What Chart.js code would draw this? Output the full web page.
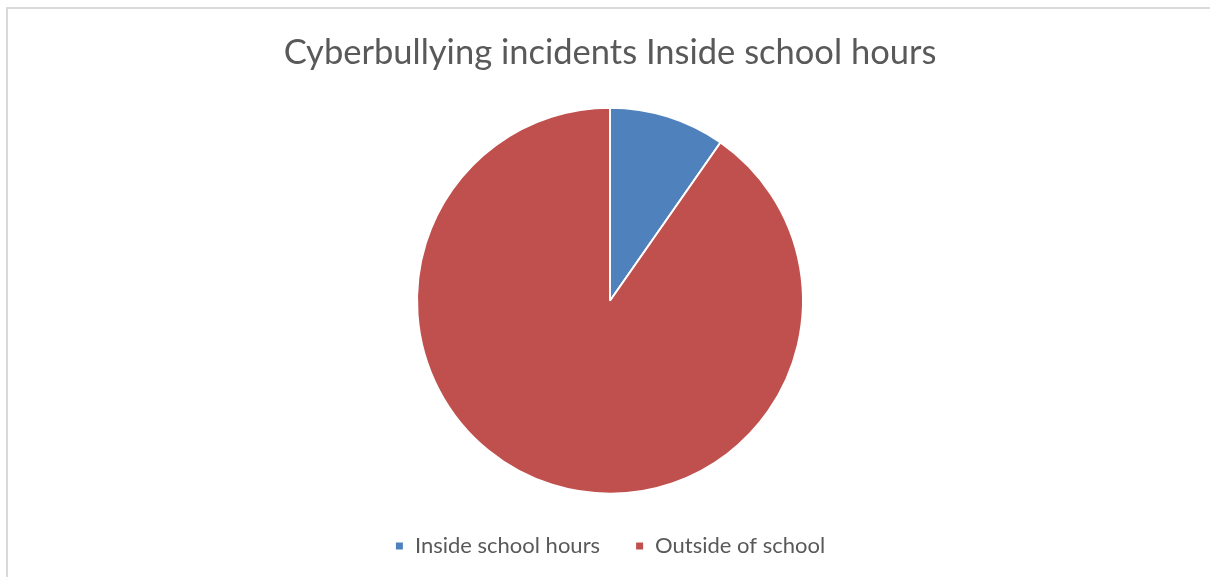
<!DOCTYPE html>
<html>
<head>
<meta charset="utf-8">
<script src="https://cdn.jsdelivr.net/npm/chart.js@4"></script>
<style>
  html, body { margin: 0; padding: 0; background: #fff; }
  .wrap { position: relative; width: 1210px; height: 577px; overflow: hidden; }
  .frame {
    position: absolute; left: 6px; top: 7px; width: 1300px; height: 700px;
    border-left: 2px solid #d9d9d9; border-top: 2px solid #d9d9d9;
  }
  canvas { position: absolute; left: 0; top: 0; }
</style>
</head>
<body>
<div class="wrap">
  <div class="frame"></div>
  <canvas id="pieChart" width="1210" height="577"></canvas>
</div>
<script>
const categories = ["Inside school hours", "Outside of school"];
const incidents = [9.7, 90.3];
const sliceColors = ["#4f81bd", "#c0504d"];
const titleText = "Cyberbullying incidents Inside school hours";

const ctx = document.getElementById("pieChart").getContext("2d");
new Chart(ctx, {
  type: "pie",
  data: {
    labels: categories,
    datasets: [
      {
        data: incidents,
        backgroundColor: sliceColors,
        borderColor: "#ffffff",
        borderWidth: 2,
        radius: 193,
      },
    ],
  },
  options: {
    responsive: false,
    animation: false,
    layout: { padding: { left: 10, top: 0, bottom: 10 } },
    plugins: {
      title: {
        display: true,
        text: titleText,
        color: "#595959",
        font: { family: "Lato", size: 34.5, weight: "normal" },
        padding: { top: 32, bottom: 28 },
      },
      legend: {
        position: "bottom",
        labels: {
          color: "#595959",
          font: { family: "Lato", size: 22 },
          boxWidth: 9,
          boxHeight: 9,
          padding: 35,
        },
      },
      tooltip: { enabled: false },
    },
  },
});
</script>
</body>
</html>
